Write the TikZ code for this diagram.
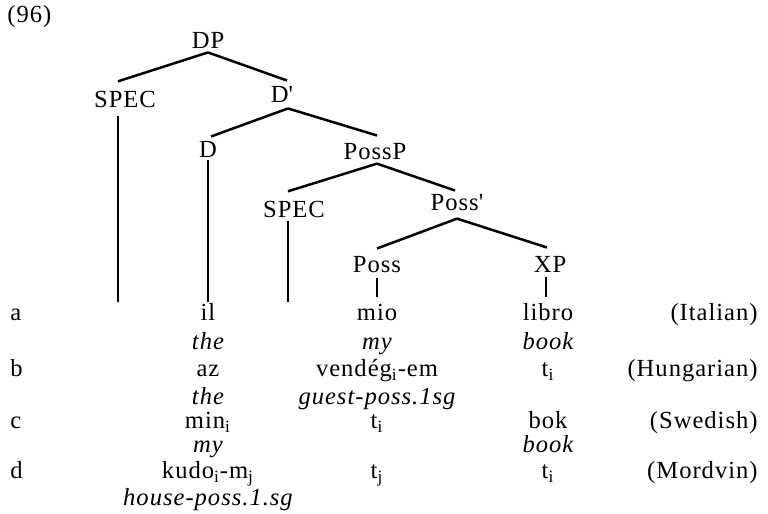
\documentclass[tikz,border=0pt]{standalone}
\usepackage{fontspec}
\setmainfont{Liberation Serif}[LetterSpace=4]
\usepackage{tikz}

\begin{document}
\begin{tikzpicture}[x=0.5pt,y=-0.5pt,
  lbl/.style={anchor=base, inner sep=1pt, font=\fontsize{12.3}{14}\selectfont},
  gls/.style={lbl, font=\fontsize{12.3}{14}\selectfont\itshape},
  br/.style={black, line width=1.25pt}]
\useasboundingbox (0,0) rectangle (768,514);

\node [lbl, anchor=base west] (num) at (5,23) {(96)};

% tree
\node [lbl] (dp) at (208,48) {DP};
\node [lbl] (specA) at (125,107) {SPEC};
\node [lbl] (dbar) at (282,103) {D\textquotesingle};
\node [lbl] (d) at (208,157) {D};
\node [lbl] (possp) at (375,159) {PossP};
\node [lbl] (specB) at (294,217) {SPEC};
\node [lbl] (possbar) at (457,210) {Poss\textquotesingle};
\node [lbl] (poss) at (377,272) {Poss};
\node [lbl] (xp) at (550,272) {XP};

\draw [br] ([yshift=-1pt]dp.south) -- ([xshift=-3.5pt,yshift=3.5pt]specA.north);
\draw [br] ([yshift=-1pt]dp.south) -- ([xshift=2.5pt,yshift=2pt]dbar.north);
\draw [br] ([xshift=3pt,yshift=-1.5pt]dbar.south) -- ([xshift=1.5pt,yshift=1pt]d.north);
\draw [br] ([xshift=3pt,yshift=-1.5pt]dbar.south) -- ([xshift=1pt,yshift=2.5pt]possp.north);
\draw [br] ([xshift=1pt,yshift=-1pt]possp.south) -- ([xshift=-3pt,yshift=3.5pt]specB.north);
\draw [br] ([xshift=1pt,yshift=-1pt]possp.south) -- ([xshift=-1pt,yshift=0.5pt]possbar.north);
\draw [br] ([yshift=-3pt]possbar.south) -- ([yshift=2.5pt]poss.north);
\draw [br] ([yshift=-3pt]possbar.south) -- ([xshift=-1.5pt,yshift=3pt]xp.north);

% rows
\node [lbl, anchor=base west] (la) at (8,321) {a};
\node [lbl] (il) at (208,321) {il};
\node [lbl] (mio) at (377,321) {mio};
\node [lbl] (libro) at (548,321) {libro};
\node [lbl, anchor=base east] (italian) at (760,321) {(Italian)};
\node [gls] (theA) at (208,350) {the};
\node [gls] (myA) at (377,350) {my};
\node [gls] (bookA) at (548,350) {book};

\node [lbl, anchor=base west] (lb) at (8,377) {b};
\node [lbl] (az) at (208,377) {az};
\node [lbl] (vendeg) at (377,377) {vendég\textsubscript{i}-em};
\node [lbl] (tiB) at (548,377) {t\textsubscript{i}};
\node [lbl, anchor=base east] (hungarian) at (760,377) {(Hungarian)};
\node [gls] (theB) at (208,404) {the};
\node [gls] (guest) at (377,404) {guest-poss.1sg};

\node [lbl, anchor=base west] (lc) at (8,429) {c};
\node [lbl] (min) at (208,429) {min\textsubscript{i}};
\node [lbl] (tiC) at (377,429) {t\textsubscript{i}};
\node [lbl] (bok) at (548,429) {bok};
\node [lbl, anchor=base east] (swedish) at (760,429) {(Swedish)};
\node [gls] (myC) at (208,452) {my};
\node [gls] (bookC) at (548,452) {book};

\node [lbl, anchor=base west] (ld) at (8,479) {d};
\node [lbl] (kudo) at (208,479) {kudo\textsubscript{i}-m\textsubscript{j}};
\node [lbl] (tjD) at (377,479) {t\textsubscript{j}};
\node [lbl] (tiD) at (548,479) {t\textsubscript{i}};
\node [lbl, anchor=base east] (mordvin) at (760,479) {(Mordvin)};
\node [gls] (house) at (208,505) {house-poss.1.sg};

% lines down to the words
\coordinate (specAend) at (118,302);
\coordinate (specBend) at (288,302);
\draw [br] ([xshift=-3.5pt,yshift=-3pt]specA.south) -- (specAend);
\draw [br] ([yshift=-0.5pt]d.south) -- (il.north);
\draw [br] ([xshift=-3pt,yshift=-0.5pt]specB.south) -- (specBend);
\draw [br] ([yshift=-1.5pt]poss.south) -- ([yshift=2.5pt]mio.north);
\draw [br] ([xshift=-2pt,yshift=-1.5pt]xp.south) -- ([xshift=-1pt,yshift=2.5pt]libro.north);

\end{tikzpicture}
\end{document}
